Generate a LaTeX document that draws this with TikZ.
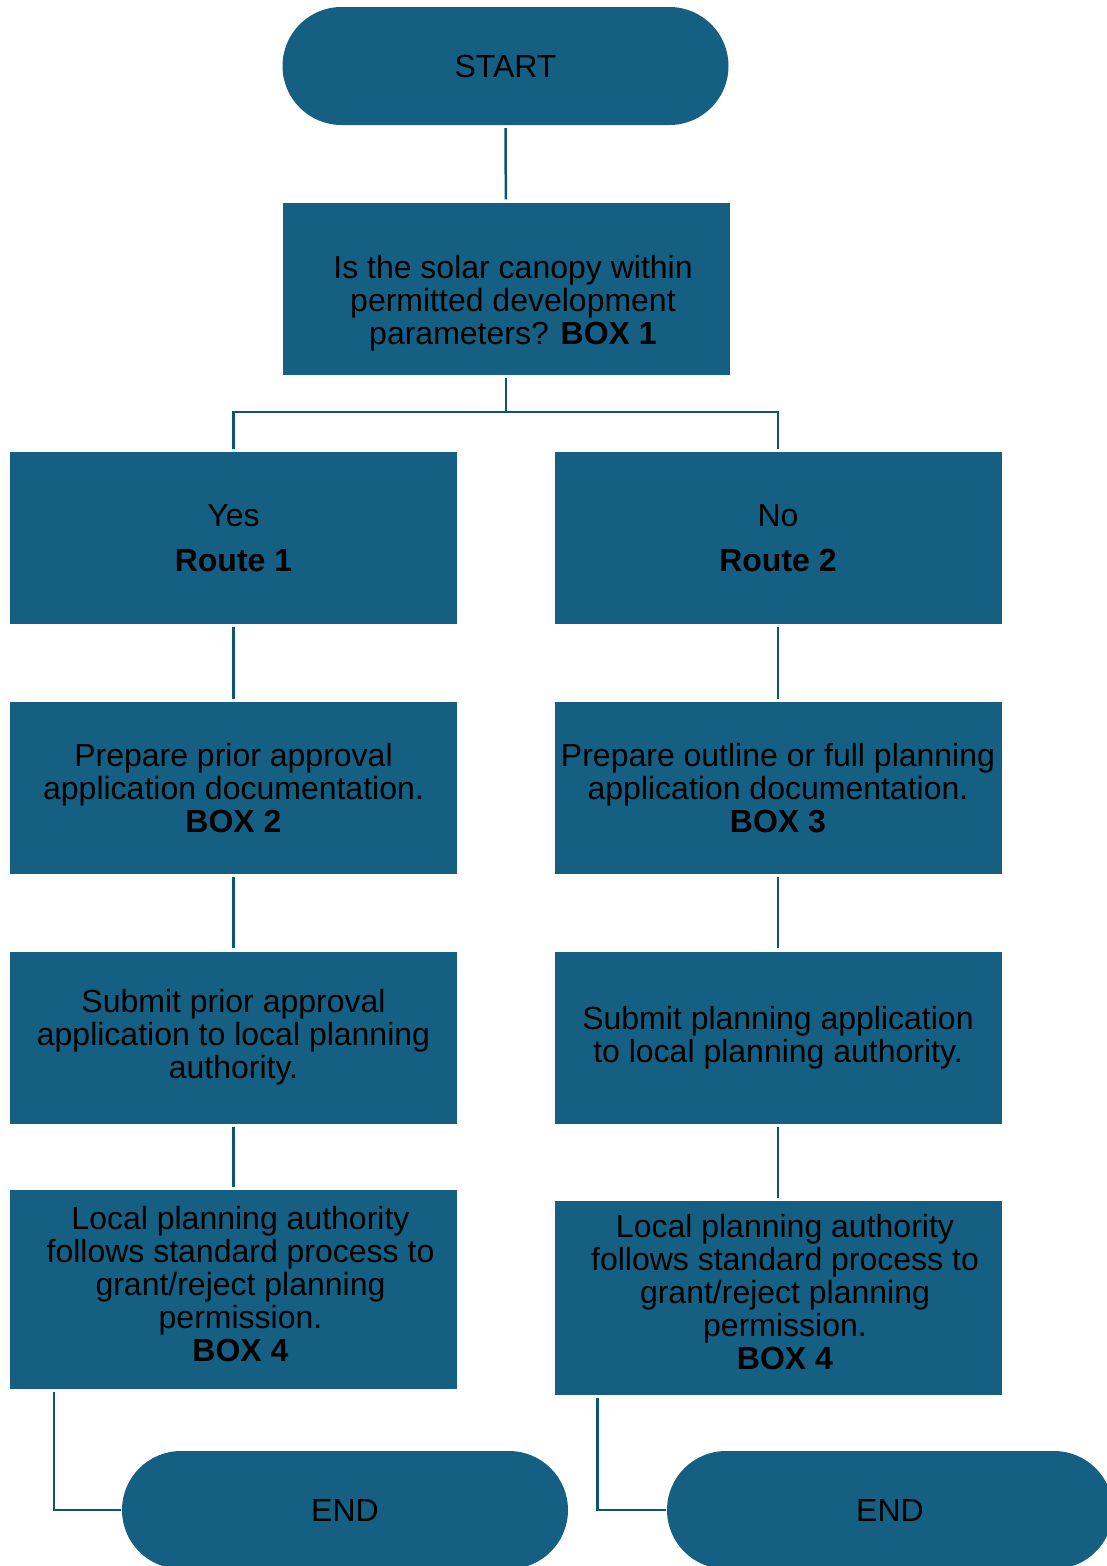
\documentclass[tikz,border=0pt]{standalone}
\usepackage{fontspec}
\setmainfont{Liberation Sans}
\definecolor{boxteal}{RGB}{21,96,130}
\definecolor{lineteal}{RGB}{16,84,116}
\newcommand{\nudge}{\hspace*{14pt}}
\tikzset{
  stepbox/.style={rectangle, fill=boxteal, minimum width=447pt, minimum height=172pt, align=center, inner sep=0pt, font=\fontsize{32}{33}\selectfont},
  terminal/.style={rectangle, rounded corners=59pt, fill=boxteal, minimum width=446pt, minimum height=118pt, inner sep=0pt, font=\fontsize{32}{33}\selectfont},
  link/.style={draw=lineteal, line width=2.5pt, shorten <=3pt, shorten >=3pt}
}
\begin{document}
\begin{tikzpicture}[x=1pt, y=-1pt]
  \clip (0,0) rectangle (1107,1566);

  \node[terminal] (start) at (505.5,66) {START};
  \node[stepbox] (question) at (506,288.5) {\rule{0pt}{52pt}\nudge Is the solar canopy within\\\nudge permitted development\\\nudge parameters? \textbf{BOX 1}};

  \node[stepbox] (yes) at (233.5,538) {Yes\\[12pt]\textbf{Route 1}};
  \node[stepbox] (no) at (778,538) {No\\[12pt]\textbf{Route 2}};

  \node[stepbox] (prepyes) at (233.5,788) {Prepare prior approval\\application documentation.\\\textbf{BOX 2}};
  \node[stepbox] (prepno) at (778,788) {Prepare outline or full planning\\application documentation.\\\textbf{BOX 3}};

  \node[stepbox] (submityes) at (233.5,1037.5) {Submit prior approval\\application to local planning\\authority.};
  \node[stepbox] (submitno) at (778,1037.5) {Submit planning application\\to local planning authority.};

  \node[stepbox, minimum height=199pt] (lpayes) at (233.5,1289.5) {\nudge Local planning authority\\\nudge follows standard process to\\\nudge grant/reject planning\\\nudge permission.\\\nudge\textbf{BOX 4}\rule[-12pt]{0pt}{12pt}};
  \node[stepbox, minimum height=194pt] (lpano) at (778,1298) {\nudge Local planning authority\\\nudge follows standard process to\\\nudge grant/reject planning\\\nudge permission.\\\nudge\textbf{BOX 4}\rule[-12pt]{0pt}{12pt}};

  \node[terminal] (endyes) at (345,1510) {END};
  \node[terminal] (endno) at (890,1510) {END};

  % connectors
  \coordinate (split) at (506,412);
  \draw[link] (start) -- (question);
  \draw[link, shorten >=0pt] (question) -- (split);
  \draw[link, shorten <=0pt] (split) -| (yes);
  \draw[link, shorten <=0pt] (split) -| (no);
  \draw[link] (yes) -- (prepyes);
  \draw[link] (no) -- (prepno);
  \draw[link] (prepyes) -- (submityes);
  \draw[link] (prepno) -- (submitno);
  \draw[link] (submityes) -- (lpayes);
  \draw[link] (submitno) -- (lpano);
  \draw[link, shorten >=1pt] ([xshift=44pt]lpayes.south west) |- (endyes);
  \draw[link, shorten >=1pt] ([xshift=43pt]lpano.south west) |- (endno);
\end{tikzpicture}
\end{document}
